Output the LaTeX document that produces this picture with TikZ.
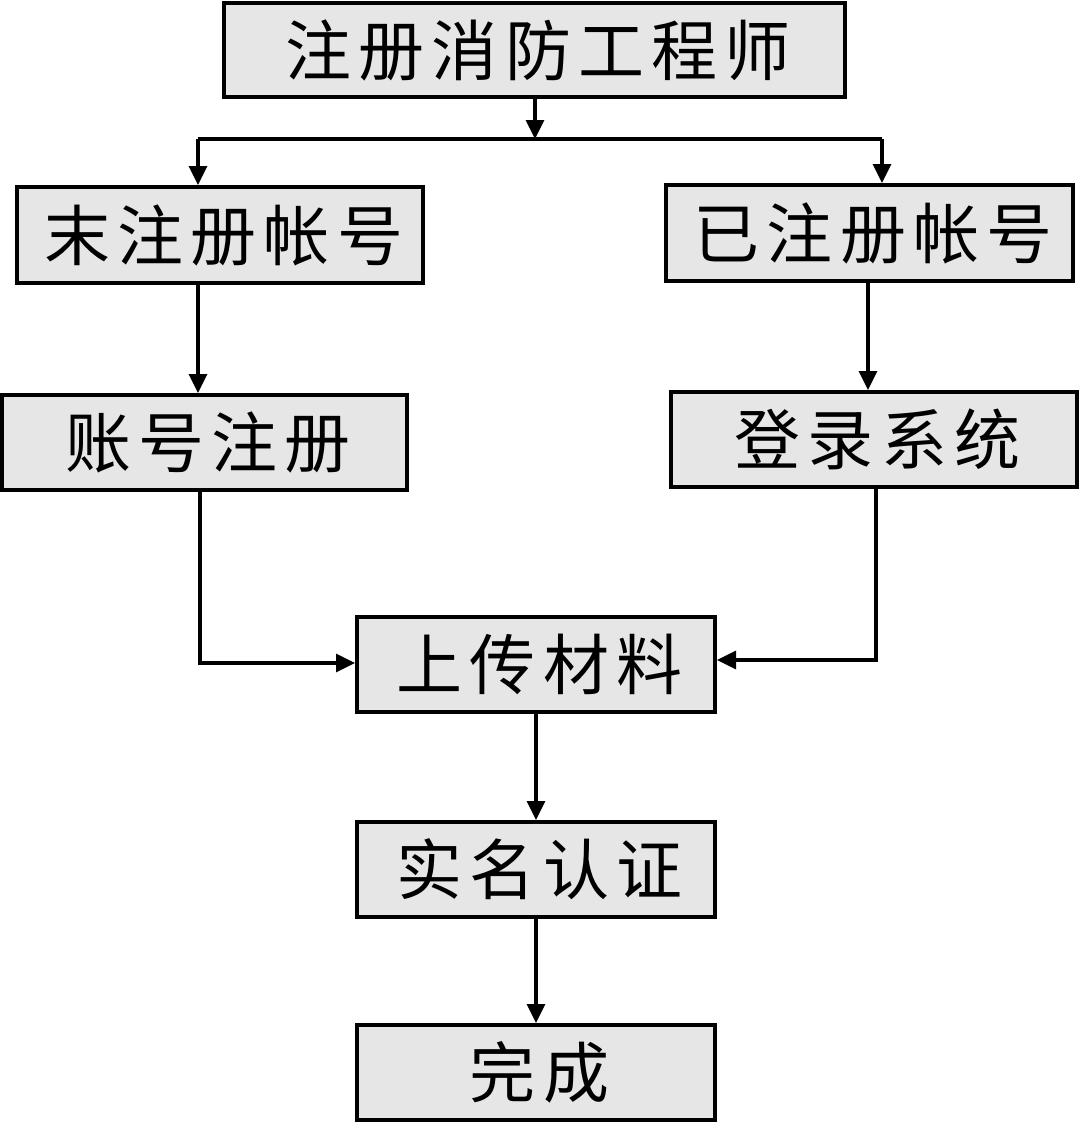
\documentclass[tikz,border=0pt]{standalone}
\usepackage{fontspec}
\newfontfamily\cjk[LetterSpace=11]{Noto Sans CJK SC}
\usetikzlibrary{arrows.meta}
\definecolor{boxgray}{HTML}{E6E6E6}
\newcommand{\trim}{\kern-3.6pt}
\tikzset{
  stepbox/.style={draw=black, line width=2pt, fill=boxgray, inner sep=0pt,
    font=\cjk\fontsize{33pt}{36pt}\selectfont, anchor=center},
  arr/.style={line width=1.6pt, -{Triangle[length=9.5pt,width=9pt]}},
  ln/.style={line width=1.6pt}
}
\begin{document}
\begin{tikzpicture}[x=0.5pt,y=-0.5pt]
\useasboundingbox (0,0) rectangle (1080,1124);
\node[stepbox, minimum width=310.5pt, minimum height=47pt] (b1) at (534.5,50) {注册消防工程师\trim};
\node[stepbox, minimum width=203pt, minimum height=48pt] (b2) at (220,235) {末注册帐号\trim};
\node[stepbox, minimum width=203.5pt, minimum height=48pt] (b3) at (869.5,233) {已注册帐号\trim};
\node[stepbox, minimum width=202.5pt, minimum height=47.5pt] (b4) at (204.5,442.5) {账号注册\trim};
\node[stepbox, minimum width=203pt, minimum height=47.5pt] (b5) at (874,439.5) {登录系统\trim};
\node[stepbox, minimum width=179pt, minimum height=47.5pt] (b6) at (536,664.5) {上传材料\trim};
\node[stepbox, minimum width=179pt, minimum height=47.5pt] (b7) at (536,869.5) {实名认证\trim};
\node[stepbox, minimum width=179pt, minimum height=47.5pt] (b8) at (536,1072.5) {完成\trim};
\coordinate (jc) at (535,139);
\coordinate (hl) at (198,139);
\coordinate (hr) at (882,139);
\coordinate (vr) at (868,300);
\coordinate (dl) at (200,663);
\coordinate (dr) at (876,660);
\draw[arr] (b1.south -| jc) -- (jc);
\draw[ln] (hl) -- (hr);
\draw[arr] (hl) -- (hl |- b2.north);
\draw[arr] (hr) -- (hr |- b3.north);
\draw[arr] (b2.south -| hl) -- (b4.north -| hl);
\draw[arr] (b3.south -| vr) -- (b5.north -| vr);
\draw[arr] (b4.south -| dl) -- (dl) -- (dl -| b6.west);
\draw[arr] (b5.south -| dr) -- (dr) -- (dr -| b6.east);
\draw[arr] (b6.south) -- (b7.north);
\draw[arr] (b7.south) -- (b8.north);
\end{tikzpicture}
\end{document}
